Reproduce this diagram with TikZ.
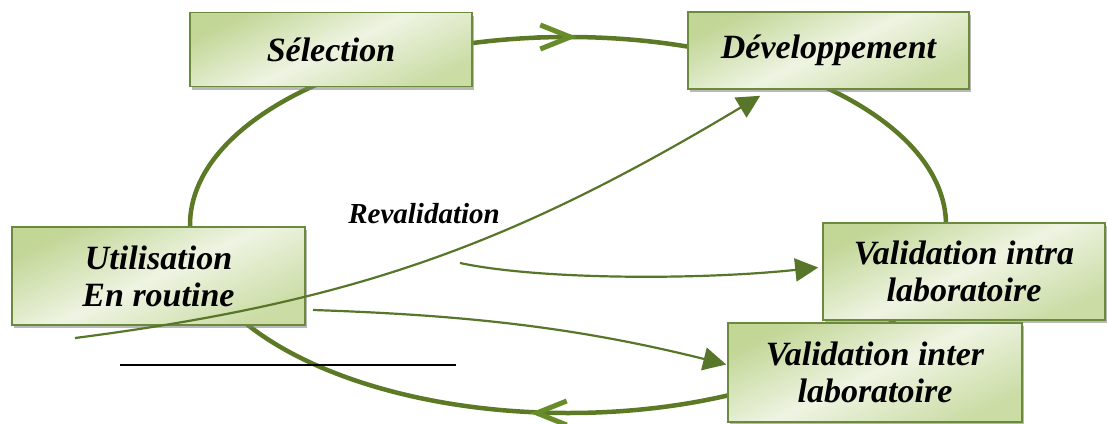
\documentclass[tikz,border=0pt]{standalone}
\usepackage{fontspec}
\setmainfont{Liberation Serif}
\usetikzlibrary{arrows.meta}
\usetikzlibrary{shadows}
\definecolor{ringgreen}{RGB}{92,122,38}
\definecolor{barbgreen}{RGB}{104,140,42}
\definecolor{flowgreen}{RGB}{88,118,42}
\definecolor{boxedge}{RGB}{108,138,62}
\definecolor{boxgreen}{RGB}{194,214,150}
\definecolor{boxlight}{RGB}{238,244,226}

\begin{document}
\begin{tikzpicture}[x=1pt, y=-1pt,
    box/.style={draw=boxedge, line width=1.6pt, top color=boxgreen, bottom color=boxgreen!80!boxlight, middle color=boxlight,
      shading angle=25, drop shadow={shadow xshift=2pt, shadow yshift=-3pt, opacity=0.55},
      align=center, inner sep=0pt, font=\fontsize{34}{37}\selectfont\bfseries\itshape},
    flow/.style={draw=flowgreen, line width=2.2pt, -{Triangle[length=23pt, width=23pt]}},
    ring/.style={draw=ringgreen, line width=4.5pt},
    ringtip/.style={ring, -{Straight Barb[length=30pt, width=24pt, line width=5pt, color=barbgreen]}}]
            \path[use as bounding box, fill=white] (0,0) rectangle (1107,423);

            \draw[ring] (568,225) ellipse [x radius=378, y radius=188];
            \coordinate (ringtop) at (577,37);
            \coordinate (ringbottom) at (530,413);
            \draw[ringtip] ([xshift=-40pt]ringtop) -- (ringtop);
            \draw[ringtip] ([xshift=40pt]ringbottom) -- (ringbottom);

            \node[box, minimum width=282pt, minimum height=74pt] (sel) at (331,49.5) {Sélection};
            \node[box, minimum width=281pt, minimum height=77pt] (dev) at (828.5,50.5) {Développement};
            \node[box, minimum width=293pt, minimum height=98pt] (util) at (158.5,276) {Utilisation\\En routine};
            \node[box, minimum width=282pt, minimum height=97pt] (intra) at (964,271.5) {Validation intra\\laboratoire};
            \node[box, minimum width=294pt, minimum height=99pt] (inter) at (875,372.5) {Validation inter\\laboratoire};

            \node[font=\fontsize{29}{32}\selectfont\bfseries\itshape] (reval) at (424,214) {Revalidation};

            \coordinate (revstart) at (75,338);
            \coordinate (intrastart) at (460,263);
            \coordinate (interstart) at (313,310);
            \coordinate (rulea) at (120,365);
            \coordinate (ruleb) at (456,365);

            \draw[flow] (revstart) .. controls (355,302) and (513,244) .. ([shift={(73,6)}]dev.south west);
            \draw[flow] (intrastart) .. controls (540,280) and (700,280) .. ([shift={(-4,-4)}]intra.west);
            \draw[flow] (interstart) .. controls (464,315) and (576,327) .. ([shift={(-1,-8)}]inter.west);
            \draw[line width=1.3pt] (rulea) -- (ruleb);
        \end{tikzpicture}
\end{document}
